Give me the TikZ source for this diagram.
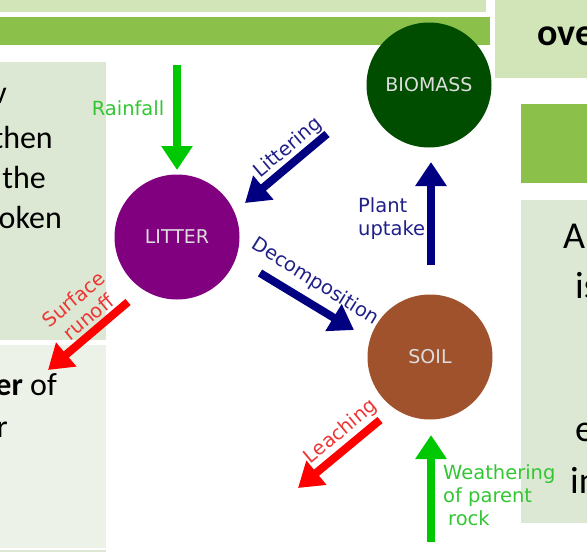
\documentclass[tikz,border=0pt]{standalone}
\usepackage{fontspec}
\setmainfont{Carlito}
\newfontfamily\dejavu{DejaVu Sans}
\usetikzlibrary{arrows.meta}
\definecolor{lightbar}{HTML}{D1E5B8}
\definecolor{greenbar}{HTML}{8BC14A}
\definecolor{panel}{HTML}{DCE8D3}
\definecolor{panellight}{HTML}{EDF2E9}
\definecolor{biomasscol}{HTML}{004D00}
\definecolor{littercol}{HTML}{800080}
\definecolor{soilcol}{HTML}{A0522D}
\definecolor{arrgreen}{HTML}{00C800}
\definecolor{txtgreen}{HTML}{33C633}
\definecolor{arrred}{HTML}{FF0000}
\definecolor{txtred}{HTML}{EE3535}
\definecolor{arrnavy}{HTML}{000080}
\definecolor{txtnavy}{HTML}{202088}
\definecolor{circtxt}{HTML}{DDDDDD}
\begin{document}
\begin{tikzpicture}[x=1pt,y=-1pt,
  pool/.style={circle, minimum size=125pt, inner sep=0pt, font={\dejavu\fontsize{19}{22}\selectfont}, text=circtxt},
  flow/.style={line width=8pt, -{Triangle[width=30pt,length=24pt]}},
  flowlabel/.style={inner sep=0pt, font={\dejavu\fontsize{19.5}{23}\selectfont}},
  bodytext/.style={inner sep=0pt, font={\fontsize{32}{38}\selectfont}},
  bigtext/.style={inner sep=0pt, font={\fontsize{38}{44}\selectfont}}]
\useasboundingbox (0,0) rectangle (587,552);
\clip (0,0) rectangle (587,552);
% background panels
\fill[lightbar] (0,0) rectangle (486,12);
\fill[greenbar] (0,17) rectangle (490,45);
\fill[lightbar] (495,0) rectangle (587,78);
\fill[greenbar] (521,104) rectangle (587,183);
\fill[panel] (521,200) rectangle (587,523);
\fill[panel] (0,62) rectangle (106,340);
\fill[panellight] (0,345) rectangle (106,548);
\fill[panel] (0,550) rectangle (106,552);
% panel texts
\node[bigtext, anchor=base west, font={\fontsize{38}{44}\selectfont\bfseries}] (head) at (537,45) {ove};
\node[bodytext, anchor=base east] (l1) at (7,103) {v};
\node[bodytext, anchor=base east] (l2) at (53,148) {then};
\node[bodytext, anchor=base east] (l3) at (46,188) {the};
\node[bodytext, anchor=base east] (l4) at (62,228) {oken};
\node[bodytext, anchor=base east] (l5) at (57,395) {\textbf{er} of};
\node[bodytext, anchor=base east] (l6) at (8,437) {r};
\node[bigtext, anchor=base west] (r1) at (563,248) {A};
\node[bigtext, anchor=base west] (r2) at (575,298) {is};
\node[bigtext, anchor=base west] (r3) at (575,441) {e};
\node[bigtext, anchor=base west] (r4) at (570,493) {in};
% pools
\node[pool, fill=biomasscol] (biomass) at (429,85) {BIOMASS};
\node[pool, fill=littercol] (litter) at (177,237) {LITTER};
\node[pool, fill=soilcol] (soil) at (430,357) {SOIL};
% arrow end points
\coordinate (rainS) at (177,65);  \coordinate (rainE) at (177,170);
\coordinate (litS) at (327,134);  \coordinate (litE) at (245,203);
\coordinate (decS) at (260,273);  \coordinate (decE) at (354,330);
\coordinate (uptS) at (431,265);  \coordinate (uptE) at (431,162);
\coordinate (runS) at (128,302);  \coordinate (runE) at (48,370);
\coordinate (leaS) at (380,420);  \coordinate (leaE) at (298,488);
\coordinate (weaS) at (431,542);  \coordinate (weaE) at (431,435);
% flows
\draw[flow, arrgreen] (rainS) -- (rainE);
\draw[flow, arrnavy] (litS) -- (litE);
\draw[flow, arrnavy] (decS) -- (decE);
\draw[flow, arrnavy] (uptS) -- (uptE);
\draw[flow, arrred] (runS) -- (runE);
\draw[flow, arrred] (leaS) -- (leaE);
\draw[flow, arrgreen] (weaS) -- (weaE);
% flow labels
\node[flowlabel, text=txtgreen, anchor=base] (rainlab) at (128,115) {Rainfall};
\node[flowlabel, text=txtnavy, rotate=40] (litlab) at (288,148) {Littering};
\node[flowlabel, text=txtnavy, rotate=-32] (declab) at (315,282) {Decomposition};
\node[flowlabel, text=txtnavy, align=left, anchor=west] (uptlab) at (358,219) {Plant\\uptake};
\node[flowlabel, text=txtred, rotate=40, align=center] (runlab) at (81,308) {Surface\\runoff};
\node[flowlabel, text=txtred, rotate=40] (lealab) at (341,432) {Leaching};
\node[flowlabel, text=txtgreen, align=left, anchor=west] (wealab) at (443,495) {Weathering\\of parent\\\hspace*{5pt}rock};
\end{tikzpicture}
\end{document}
